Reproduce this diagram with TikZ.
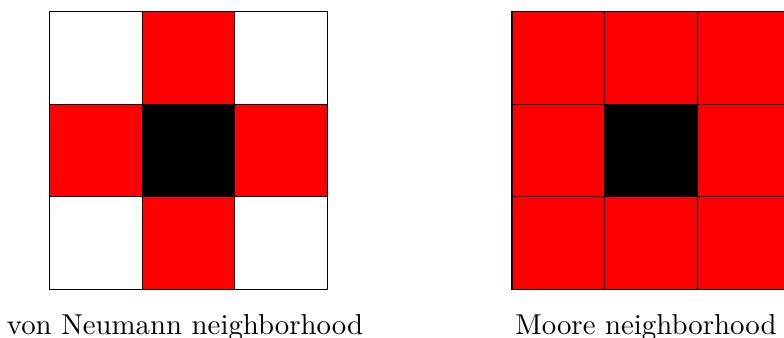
\documentclass[tikz,border=0pt]{standalone}
\begin{document}
\begin{tikzpicture}[x=0.3472pt,y=-0.3472pt,
  cell/.style={draw=black,line width=0.4pt},
  lbl/.style={anchor=base,inner sep=0pt,font=\fontsize{10}{12}\selectfont}]
\useasboundingbox (0,0) rectangle (784,338);
% von Neumann grid
\def\cs{92.7}
\foreach \i in {0,1,2}{\foreach \j in {0,1,2}{
  \pgfmathsetmacro{\x}{49.5+\i*\cs}\pgfmathsetmacro{\y}{11.5+\j*\cs}
  \pgfmathtruncatemacro{\k}{\i*3+\j}
  \ifnum\k=4 \def\col{black}\else
    \ifodd\k \def\col{red}\else\def\col{white}\fi\fi
  \path[cell,fill=\col] (\x,\y) rectangle ++(\cs,\cs);
}}
% Moore grid
\foreach \i in {0,1,2}{\foreach \j in {0,1,2}{
  \pgfmathsetmacro{\x}{512+\i*\cs}\pgfmathsetmacro{\y}{11.5+\j*\cs}
  \pgfmathtruncatemacro{\k}{\i*3+\j}
  \ifnum\k=4 \def\col{black}\else\def\col{red}\fi
  \path[cell,fill=\col] (\x,\y) rectangle ++(\cs,\cs);
}}
\node[lbl] (vn) at (185,335) {von Neumann neighborhood};
\node[lbl] (mo) at (646,335) {Moore neighborhood};
\end{tikzpicture}
\end{document}
